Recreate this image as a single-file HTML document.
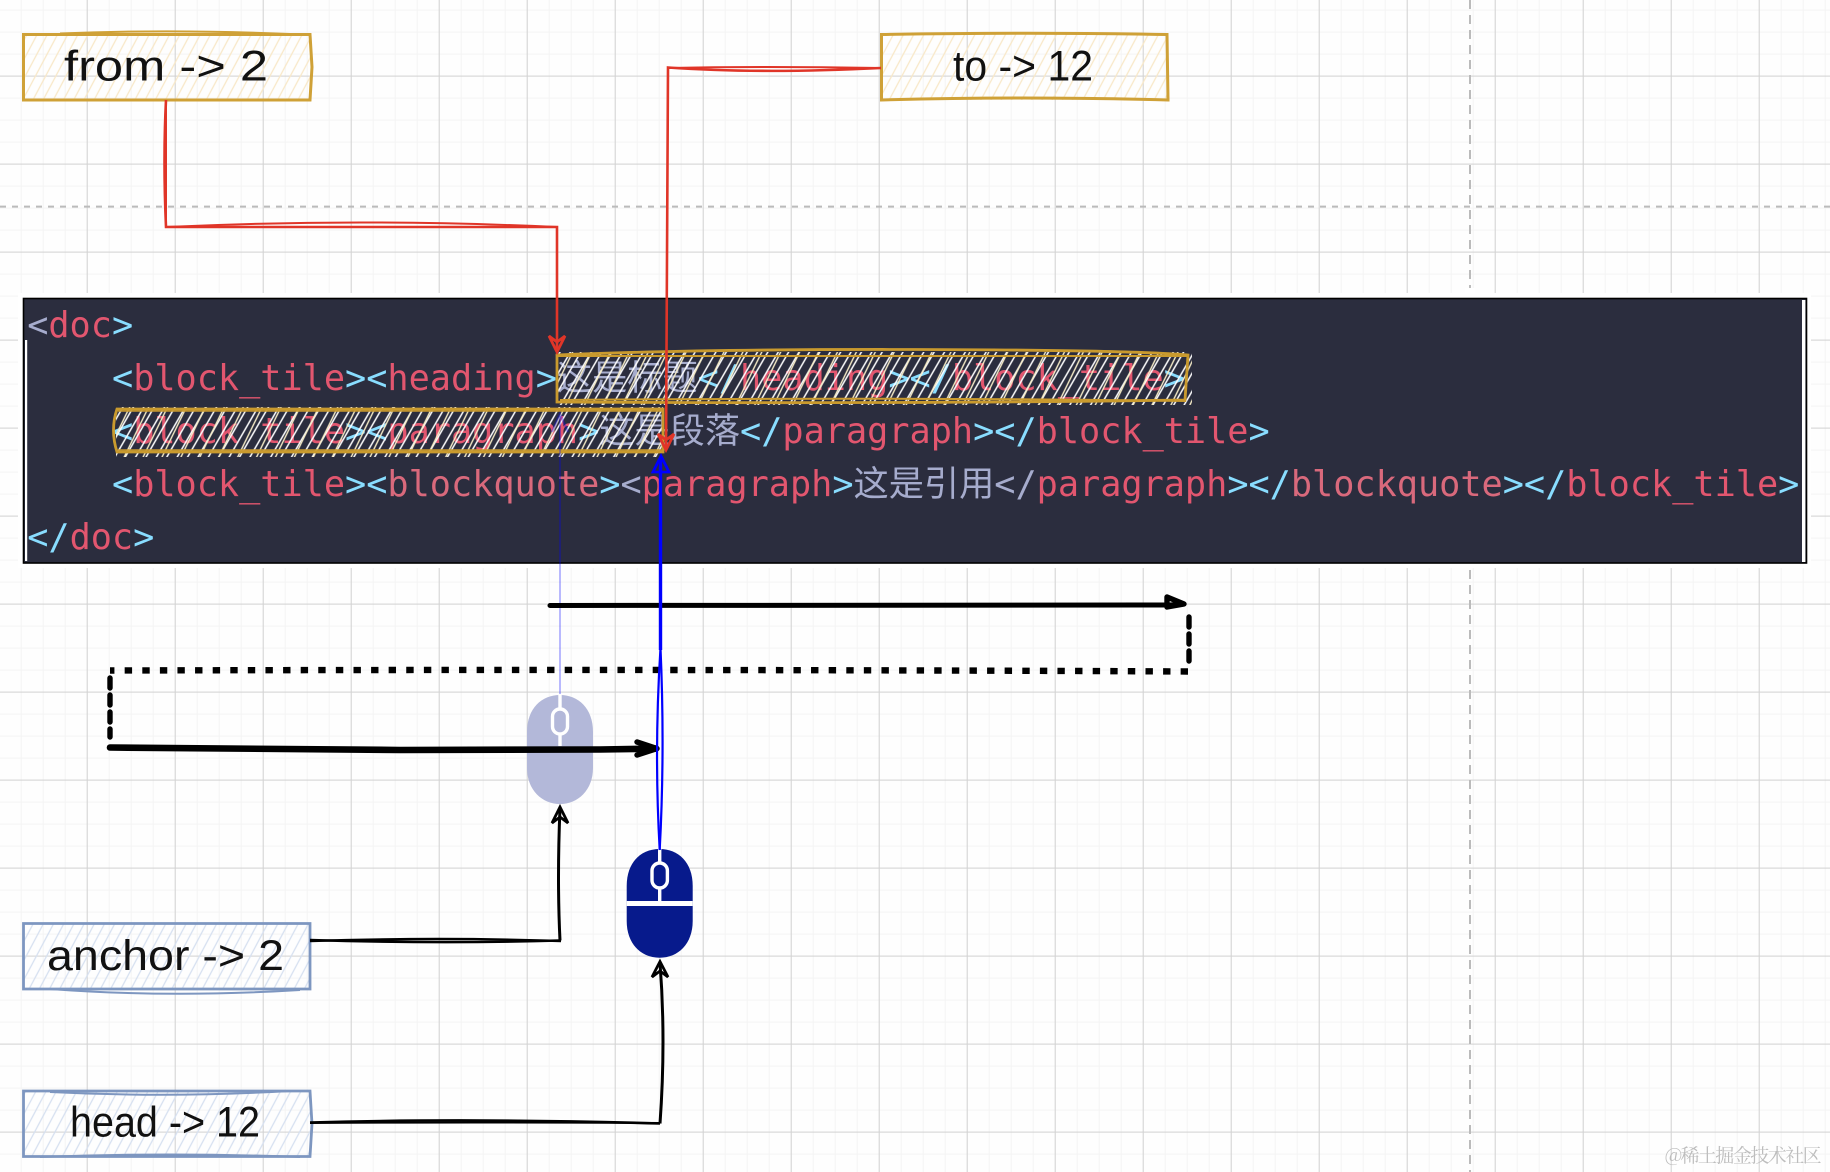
<!DOCTYPE html>
<html><head><meta charset="utf-8">
<style>
html,body{margin:0;padding:0;background:#fff;width:1830px;height:1172px;overflow:hidden}
svg{display:block}
.code{font-family:"DejaVu Sans Mono","Noto Sans CJK SC",monospace;font-size:35.2px;white-space:pre}
.hand{font-family:"Liberation Sans",sans-serif;font-size:43px;fill:#111}
.c{fill:#89ddff}.p{fill:#e2566f}.l{fill:#d9697c}.g{fill:#a6accd}
</style></head><body>
<svg xmlns="http://www.w3.org/2000/svg" width="1830" height="1172" viewBox="0 0 1830 1172">
<defs>
<pattern id="minor" x="-0.3" y="10.6" width="22" height="22" patternUnits="userSpaceOnUse">
<path d="M22 0V22M0 22H22" stroke="#f4f4f4" stroke-width="2" fill="none"/>
</pattern>
<pattern id="major" x="-0.3" y="-11.4" width="88" height="88" patternUnits="userSpaceOnUse">
<path d="M88 0V88M0 88H88" stroke="#d2d2d2" stroke-width="2" fill="none"/>
</pattern>
<pattern id="hy" width="9" height="30" patternUnits="userSpaceOnUse" patternTransform="rotate(28)">
<line x1="4" y1="0" x2="4" y2="30" stroke="#f8e8c8" stroke-width="1.3"/>
</pattern>
<pattern id="hb" width="9" height="30" patternUnits="userSpaceOnUse" patternTransform="rotate(28)">
<line x1="4" y1="0" x2="4" y2="30" stroke="#d6e0f0" stroke-width="1.3"/>
</pattern>
<pattern id="hw" width="9" height="40" patternUnits="userSpaceOnUse" patternTransform="rotate(30)">
<line x1="4" y1="0" x2="4" y2="40" stroke="#fff" stroke-width="1.5"/>
</pattern>
<pattern id="hw2" width="17" height="40" patternUnits="userSpaceOnUse" patternTransform="rotate(26)">
<line x1="6" y1="0" x2="6" y2="40" stroke="#f7edc8" stroke-width="1.4"/>
</pattern>
</defs>

<rect width="1830" height="1172" fill="#fefefe"/>
<rect width="1830" height="1172" fill="url(#minor)"/>
<rect width="1830" height="1172" fill="url(#major)"/>

<line x1="0" y1="206.6" x2="1830" y2="206.6" stroke="#bbb" stroke-width="2" stroke-dasharray="6 6"/>
<line x1="1470" y1="0" x2="1470" y2="1172" stroke="#bbb" stroke-width="2" stroke-dasharray="9 6"/>

<!-- code panel -->
<rect x="18" y="293" width="1793" height="275" fill="#fff"/>
<rect x="1465" y="288" width="10" height="10" fill="#fff"/>
<rect x="23.5" y="298.5" width="1783" height="264.5" fill="#2b2d3e" stroke="#000" stroke-width="1.6"/>
<rect x="25" y="340" width="2.2" height="221" fill="#fff"/>
<rect x="1802" y="300" width="3.4" height="262" fill="#fff"/>

<text class="code" x="27.2" y="337" xml:space="preserve"><tspan class="g">&lt;</tspan><tspan class="p">doc</tspan><tspan class="c">&gt;</tspan></text>
<text class="code" x="112" y="390" xml:space="preserve"><tspan class="c">&lt;</tspan><tspan class="p">block_tile</tspan><tspan class="c">&gt;&lt;</tspan><tspan class="p">heading</tspan><tspan class="c">&gt;</tspan><tspan class="g">这是标题</tspan><tspan class="c">&lt;/</tspan><tspan class="p">heading</tspan><tspan class="c">&gt;&lt;/</tspan><tspan class="p">block_tile</tspan><tspan class="c">&gt;</tspan></text>
<text class="code" x="112" y="443" xml:space="preserve"><tspan class="c">&lt;</tspan><tspan class="p">block_tile</tspan><tspan class="c">&gt;&lt;</tspan><tspan class="p">paragraph</tspan><tspan class="c">&gt;</tspan><tspan class="g">这是段落</tspan><tspan class="c">&lt;/</tspan><tspan class="p">paragraph</tspan><tspan class="c">&gt;&lt;/</tspan><tspan class="p">block_tile</tspan><tspan class="c">&gt;</tspan></text>
<text class="code" x="112" y="496" xml:space="preserve"><tspan class="c">&lt;</tspan><tspan class="p">block_tile</tspan><tspan class="c">&gt;&lt;</tspan><tspan class="l">blockquote</tspan><tspan class="c">&gt;</tspan><tspan class="g">&lt;</tspan><tspan class="p">paragraph</tspan><tspan class="c">&gt;</tspan><tspan class="g">这是引用&lt;/</tspan><tspan class="p">paragraph</tspan><tspan class="c">&gt;&lt;/</tspan><tspan class="l">blockquote</tspan><tspan class="c">&gt;&lt;/</tspan><tspan class="p">block_tile</tspan><tspan class="c">&gt;</tspan></text>
<text class="code" x="27.2" y="549" xml:space="preserve"><tspan class="c">&lt;/</tspan><tspan class="p">doc</tspan><tspan class="c">&gt;</tspan></text>

<!-- highlight hatch on code -->
<rect x="558" y="352" width="634" height="53" fill="url(#hw)"/>
<rect x="558" y="352" width="634" height="53" fill="url(#hw2)"/>
<rect x="116" y="407" width="547" height="50" fill="url(#hw)"/>
<rect x="116" y="407" width="547" height="50" fill="url(#hw2)"/>
<g fill="none" stroke="#c99a2e" stroke-width="2.8">
<path d="M557 355 Q700 349 915 349.5 T1188 355 L1185 400 Q900 404 557 402 Z"/>
<path d="M557 356 H1187 M560 400 Q900 397 1186 401" stroke-width="2"/>
<path d="M117 409 H663 L663 452 H117 Q110 430 117 409 Z"/>
<path d="M118 411 H662 M118 450 H662" stroke-width="1.6"/>
</g>

<!-- label boxes -->
<rect x="24" y="34" width="286" height="66" fill="url(#hy)"/>
<rect x="881" y="34" width="286" height="66" fill="url(#hy)"/>
<rect x="24" y="924" width="286" height="66" fill="url(#hb)"/>
<rect x="24" y="1091" width="287" height="66" fill="url(#hb)"/>
<g fill="none" stroke="#cfa137" stroke-width="3">
<path d="M23.5 34.5 H310 L312 67 L310 100 H23.5 Z"/>
<path d="M60 33.5 Q170 29 290 34" stroke-width="2"/>
<path d="M881.5 34.5 Q1030 32 1167 34.5 L1168 100 Q1020 96 881.5 100 Z"/>
</g>
<g fill="none" stroke="#7d96c0" stroke-width="2.8">
<path d="M23.5 923.5 H310 V989 H23.5 Z"/>
<path d="M50 989 Q170 998 300 990" stroke-width="2"/>
<path d="M23.5 1091 H310 L312 1124 L310 1156.5 H23.5 Z"/>
<path d="M50 1092 Q170 1098 290 1091 M40 1157 Q170 1152 300 1157" stroke-width="2"/>
</g>

<text class="hand" x="64" y="80.5" textLength="204" lengthAdjust="spacingAndGlyphs">from -&gt; 2</text>
<text class="hand" x="953" y="80.5" textLength="140" lengthAdjust="spacingAndGlyphs">to -&gt; 12</text>
<text class="hand" x="47" y="970" textLength="237" lengthAdjust="spacingAndGlyphs">anchor -&gt; 2</text>
<text class="hand" x="70" y="1136.5" textLength="190" lengthAdjust="spacingAndGlyphs">head -&gt; 12</text>

<!-- mice -->
<path d="M527 732 C527 708 542 695 560 695 C578 695 593 708 593 732 V768 C593 790 578 804 560 804 C542 804 527 790 527 768 Z" fill="#b3b8d9"/>
<g fill="none" stroke="#fff" stroke-width="3.4">
<rect x="552.5" y="709" width="15" height="25" rx="7.5"/>
<path d="M560 695V709M560 734V746"/>
</g>
<path d="M626.7 886 C626.7 862 641 849 659.7 849 C678 849 692.7 862 692.7 886 V921 C692.7 944 678 957.7 659.7 957.7 C641 957.7 626.7 944 626.7 921 Z" fill="#071a8c"/>
<g fill="none" stroke="#fff" stroke-width="3.4">
<rect x="652" y="863" width="15.4" height="25" rx="7.7"/>
<path d="M659.7 849V863M659.7 888V901"/>
</g>
<rect x="626.7" y="901" width="66" height="5" fill="#fff"/>

<!-- light blue connector -->
<g fill="none" stroke="#0000ff" stroke-opacity=".3" stroke-width="1.8">
<path d="M560 694 V416"/>
<path d="M552 432 L560 414 L568 432" stroke-width="2.4"/>
</g>

<!-- black arrows -->
<g fill="none" stroke="#000" stroke-linejoin="round">
<path d="M550 605.5 L1170 605 L1183 604" stroke-width="5" stroke-linecap="round"/>
<path d="M1167 597 L1184 604 L1167 607 Z" stroke-width="5.4" stroke-linecap="round"/>
<path d="M1189 617 V668" stroke-width="5.4" stroke-dasharray="10 7" stroke-linecap="round"/>
<path d="M1188 671.5 Q700 669 110 670.5" stroke-width="6.4" stroke-dasharray="7.4 10.2"/>
<path d="M110 678 V737" stroke-width="5.4" stroke-dasharray="10 7" stroke-linecap="round"/>
<path d="M110 747.5 L400 750 L600 749.5 L656 748.6" stroke-width="6.6" stroke-linecap="round"/>
<path d="M637 742 L657 748.6 L637 755" stroke-width="5.4" stroke-linecap="round"/>
</g>
<g fill="none" stroke="#000" stroke-width="2.4">
<path d="M310 940 Q440 944 560 940.5"/>
<path d="M310 941 Q440 937 561 941"/>
<path d="M560 940.5 Q557 880 560 808" stroke-width="3"/>
<path d="M552 823 L560 807 L568 823 L560 817 Z" stroke-width="2.8"/>
<path d="M310 1122.5 Q470 1118 660 1123.5" stroke-width="2.6"/>
<path d="M310 1123 Q470 1122 660 1123" stroke-width="2"/>
<path d="M660 1123.5 Q666 1040 660 963" stroke-width="3"/>
<path d="M652 977 L660 961.5 L668 977 L660 971 Z" stroke-width="2.8"/>
</g>

<!-- blue connector -->
<g fill="none" stroke="#0000ff">
<path d="M660.5 460 V650" stroke-width="3.4"/>
<path d="M660.5 648 Q654 750 659.7 850" stroke-width="2.2"/>
<path d="M660.5 648 Q665 750 659.7 850" stroke-width="2.2"/>
<path d="M653 472 L661 456 L669 472 Z" stroke-width="2.8"/>
</g>

<!-- red connectors -->
<g fill="none" stroke="#e03528" stroke-width="2.6">
<path d="M166 100 Q163 160 166 227 H557 V352"/>
<path d="M166 100 V227 Q360 218 557 227" stroke-width="2"/>
<path d="M881 68 Q760 74 668 67.5 L666 448"/>
<path d="M881 68 Q760 66 668 68" stroke-width="2"/>
<path d="M549 336 L557 352 L565 336 L557 342 Z" stroke-width="2.8"/>
<path d="M658 434 L666 450 L674 434 L666 440 Z" stroke-width="2.8"/>
</g>

<text x="1664.7" y="1162" font-family="'Noto Serif CJK SC','Noto Sans CJK SC',serif" font-size="19" fill="#bdbdbd" textLength="157">@稀土掘金技术社区</text>
</svg>
</body></html>
